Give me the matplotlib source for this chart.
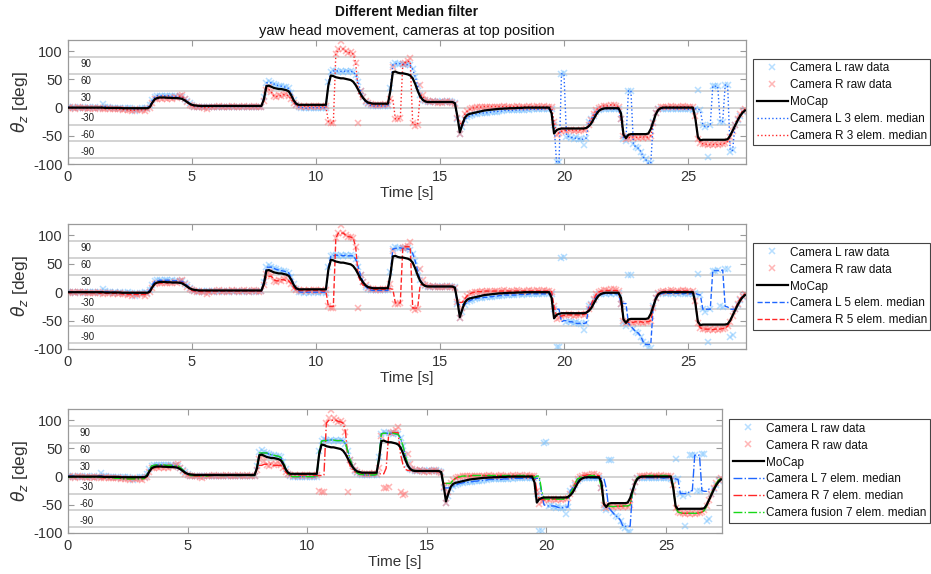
import numpy as np
import matplotlib
matplotlib.use('Agg')
import matplotlib.pyplot as plt

plt.rcParams['font.family'] = ['Liberation Sans', 'DejaVu Sans']
plt.rcParams['axes.unicode_minus'] = False
plt.rcParams['mathtext.fontset'] = 'dejavusans'

# ---------------- data (sampled every 0.1 s, t = 0.0 ... 27.3 s) ----------------
sample_step = 0.1

mocap = [
    0, 0, 0, 0, 0, 0, 0, 0, 0, 0,
    0, 0, 0, 0, 0, -0.5, -0.5, -0.5, -0.5, -0.5,
    -0.5, -0.5, -1, -1, -1, -1, -1, -1, -1, -1,
    -1, -1, -1, 1, 9, 15, 17, 18, 18, 18,
    17.5, 17.5, 17, 17, 17, 16.5, 15.5, 13, 10, 7,
    5, 4, 3.5, 3, 3, 3, 3, 3, 3, 3,
    3, 3, 3, 3, 3, 3, 3, 3, 3, 3,
    3, 3, 3, 3, 3, 3, 3, 3, 3, 15,
    38, 39, 37, 35, 34, 33, 33, 32, 31, 29,
    22, 13, 7, 5, 5, 5, 5, 5, 5, 5,
    5, 5, 5, 5, 5, 40, 57, 56, 54, 53,
    52, 52, 51, 50, 49, 46, 40, 32, 24, 17,
    12, 9, 8, 7, 7, 7, 7, 7, 7, 7,
    30, 63, 64, 62, 61, 61, 60, 59, 57, 52,
    42, 30, 20, 14, 11, 10, 10, 10, 10, 10,
    10, 10, 10, 10, 10, 10, 8, -15, -44, -30,
    -18, -13, -11, -10, -9, -8, -7, -6, -5, -4.5,
    -4, -3.5, -3, -2.5, -2, -2, -1.5, -1.5, -1, -1,
    -1, -0.5, -0.5, -0.5, 0, 0, 0, 0, 0, 0,
    0, 0, 0, 0, 0, -10, -46, -40, -38, -37,
    -37, -37, -37, -37, -37, -37, -37, -37, -37, -36,
    -33, -28, -20, -12, -6, -3, -1.5, -1, -1, -1,
    -1, -1, -1, -10, -48, -54, -48, -47, -47, -47,
    -47, -47, -47, -47, -46, -38, -25, -12, -4, -1,
    0, 0, 0, 0, 0, 0, 0, 0, 0, 0,
    0, 0, 0, -20, -52, -58, -57, -57, -57, -57,
    -57, -57, -57, -57, -57, -57, -56, -50, -41, -32,
    -23, -15, -9, -5,
]

cam_l_raw = [
    1, 0, 1, -1, 0, 1, 0, -1, 1, 0,
    0, 1, -1, 0, 6, 2, 1, 0, -1, 0,
    -1, 0, -2, -1, 0, -1, -2, -6, -3, -2,
    -1, 0, -1, 4, 13, 19, 21, 21, 20, 21,
    21, 20, 21, 20, 19, 20, 19, 16, 12, 8,
    4, 2, 2, 1, 2, 1, 2, 2, 1, 2,
    2, 1, 2, 2, 1, 2, 2, 1, 2, 2,
    1, 2, 2, 1, 2, 2, 1, 2, 2, 18,
    44, 48, 44, 42, 40, 39, 38, 37, 36, 34,
    26, 14, 5, 1, 0, -1, 0, -1, 0, 0,
    0, -1, 0, 0, -1, 45, 63, 66, 65, 64,
    65, 64, 65, 64, 65, 64, 58, 45, 30, 18,
    10, 6, 4, 3, 3, 3, 4, 3, 3, 3,
    35, 76, 80, 78, 77, 78, 76, 77, 75, 68,
    55, 38, 22, 14, 11, 10, 10, 11, 10, 10,
    10, 11, 10, 10, 11, 10, 9, -20, -46, -35,
    -22, -17, -15, -13, -12, -11, -10, -10, -9, -9,
    -8, -8, -7, -7, -6, -6, -5, -5, -5, -5,
    -5, -4, -4, -5, -4, -3, -4, -3, -3, -3,
    -3, -3, -2, -2, -3, -3, -30, -97, -97, 60,
    62, -52, -50, -53, -55, -52, -55, -56, -66, -54,
    -25, -20, -14, -8, -4, -3, -2, -3, -2, -3,
    -2, -3, -2, -20, -55, -60, 30, 30, -65, -70,
    -72, -78, -88, -92, -99, -99, -25, -10, -3, -2,
    -2, -3, -2, -2, -3, -2, -3, -2, -2, -3,
    -3, -2, -4, -2, 32, -5, -30, -34, -88, -30,
    38, 38, 39, -25, -26, 41, 40, -78, -76, -30,
    -22, -14, -8, -5,
]

cam_r_raw = [
    -1, 1, 0, -2, 1, 0, -1, 0, -2, -1,
    -1, -2, 0, -1, -3, -2, -1, -2, -3, -2,
    -3, -2, -4, -3, -5, -4, -6, -3, -5, -4,
    -4, -6, -3, 0, 8, 15, 16, 17, 16, 17,
    16, 17, 16, 18, 17, 20, 22, 15, 10, 5,
    3, 2, 1, 2, 1, 0, -3, 1, 2, 1,
    2, 3, 1, 2, 2, 1, 3, 2, 2, 1,
    2, 3, 2, 1, 2, 3, 2, 1, 2, 12,
    32, 36, 28, 20, 18, 22, 20, 23, 25, 20,
    15, 8, 4, 3, 2, 3, 2, 3, 2, 3,
    3, 2, 3, 2, 3, -25, -28, -27, 95, 104,
    118, 104, 100, 97, 98, 95, 80, -28, 30, 18,
    12, 8, 6, 5, 4, 5, 4, 5, 6, 5,
    15, 72, -20, -21, -19, 78, 80, 82, 88, -28,
    -32, -30, 40, 22, 13, 11, 10, 11, 10, 9,
    10, 9, 10, 11, 10, 9, 7, -18, -46, -28,
    -12, -6, -3, -1, 0, 1, 1, 2, 1, 2,
    2, 1, 2, 2, 1, 2, 3, 2, 1, 2,
    2, 3, 2, 1, 2, 2, 3, 2, 2, 3,
    2, 2, 3, 2, 2, 1, -25, -48, -45, -42,
    -40, -41, -39, -40, -42, -40, -41, -39, -40, -38,
    -30, -22, -12, -4, 0, 2, 3, 3, 2, 5,
    5, 3, 2, -20, -50, -55, -53, -52, -54, -52,
    -53, -52, -54, -52, -53, -50, -28, -10, -2, 1,
    2, 1, 2, 3, 2, 1, 2, 2, 3, 2,
    2, 1, 2, -15, -55, -63, -65, -64, -66, -65,
    -67, -65, -66, -64, -65, -63, -60, -52, -42, -30,
    -20, -12, -6, -3,
]

median_sizes = [3, 5, 7]
reference_levels = [90, 60, 30, 0, -30, -60, -90]
reference_labels = ['90', '60', '30', '', '-30', '-60', '-90']
y_ticks = [-100, -50, 0, 50, 100]
x_ticks = [0, 5, 10, 15, 20, 25]

title_main = 'Different Median filter'
title_sub = 'yaw head movement, cameras at top position'

# ---------------- processing ----------------
mocap = np.asarray(mocap, float)
cam_l = np.asarray(cam_l_raw, float)
cam_r = np.asarray(cam_r_raw, float)
t = np.arange(len(mocap)) * sample_step


def median_filter(x, k):
    h = k // 2
    xp = np.pad(x, h, mode='edge')
    w = np.lib.stride_tricks.sliding_window_view(xp, k)
    return np.median(w, axis=1)


# fusion: left camera for positive yaw, right camera for negative yaw
fusion_raw = np.where((cam_l + cam_r) / 2 > 0, cam_l, cam_r)

# ---------------- figure ----------------
W, H = 931, 574
fig = plt.figure(figsize=(W / 100, H / 100), dpi=100)

axes_px = [  # left, top, right, bottom in pixels
    (68, 40, 746, 164),
    (68, 224, 746, 349),
    (68, 409, 722, 533),
]
linestyles = [':', '--', '-.']
c_lraw = '#7cc4ff'
c_rraw = '#ff7a7a'
c_lmed = '#1f66ff'
c_rmed = '#ff2626'
c_fus = '#18d818'
spine_c = '#9a9a9a'
text_c = '#333333'

for i, (l, tp, r, b) in enumerate(axes_px):
    ax = fig.add_axes([l / W, 1 - b / H, (r - l) / W, (b - tp) / H])
    k = median_sizes[i]
    ls = linestyles[i]

    for lev, lab in zip(reference_levels, reference_labels):
        ax.axhline(lev, color='#d0d0d0', lw=1.3, zorder=0)
        if lab:
            ax.text(0.5, lev - 4 if lev > 0 else lev + 3, lab, fontsize=7,
                    color='#222222', ha='left',
                    va='top' if lev > 0 else 'bottom', zorder=1)

    h_l, = ax.plot(t, cam_l, ls='none', marker='x', ms=4.5, mew=1.1,
                   color=c_lraw, alpha=0.55, zorder=2)
    h_r, = ax.plot(t, cam_r, ls='none', marker='x', ms=4.5, mew=1.1,
                   color=c_rraw, alpha=0.55, zorder=2)
    h_lm, = ax.plot(t, median_filter(cam_l, k), ls=ls, lw=1.0, color=c_lmed, zorder=3)
    h_rm, = ax.plot(t, median_filter(cam_r, k), ls=ls, lw=1.0, color=c_rmed, zorder=3)
    handles = [h_l, h_r, None, h_lm, h_rm]
    labels = ['Camera L raw data', 'Camera R raw data', 'MoCap',
              f'Camera L {k} elem. median', f'Camera R {k} elem. median']
    if i == 2:
        h_f, = ax.plot(t, median_filter(fusion_raw, k), ls=ls, lw=1.0, color=c_fus, zorder=3)
        handles.append(h_f)
        labels.append(f'Camera fusion {k} elem. median')
    h_m, = ax.plot(t, mocap, color='black', lw=1.6, zorder=4)
    handles[2] = h_m

    ax.set_xlim(0, 27.34)
    ax.set_ylim(-100, 120)
    ax.set_xticks(x_ticks)
    ax.set_yticks(y_ticks)
    ax.tick_params(direction='in', length=4, width=0.8, top=True, right=True,
                   colors=spine_c, labelcolor=text_c, labelsize=10.5, pad=4)
    for s in ax.spines.values():
        s.set_color(spine_c)
        s.set_linewidth(0.9)
    ax.set_xlabel('Time [s]', fontsize=11, color=text_c, labelpad=2)
    ax.set_ylabel(r'$\theta_z$ [deg]', fontsize=12.5, color=text_c, labelpad=2)

    gap = 7 / (r - l)
    leg = ax.legend(handles, labels, loc='center left', bbox_to_anchor=(1 + gap, 0.5),
                    borderaxespad=0, fontsize=8.5, frameon=True, fancybox=False,
                    framealpha=1, edgecolor='#444444', handlelength=2.7,
                    handletextpad=0.1, labelspacing=0.42, borderpad=0.3)
    leg.get_frame().set_linewidth(0.8)
    for txt in leg.get_texts():
        txt.set_color('#111111')

fig.text(407 / W, 1 - 12 / H, title_main, ha='center', va='center',
         fontsize=10, fontweight='bold', color='#111111')
fig.text(407 / W, 1 - 31 / H, title_sub, ha='center', va='center',
         fontsize=10.5, color='#111111')

fig.savefig('out.png', dpi=100)
